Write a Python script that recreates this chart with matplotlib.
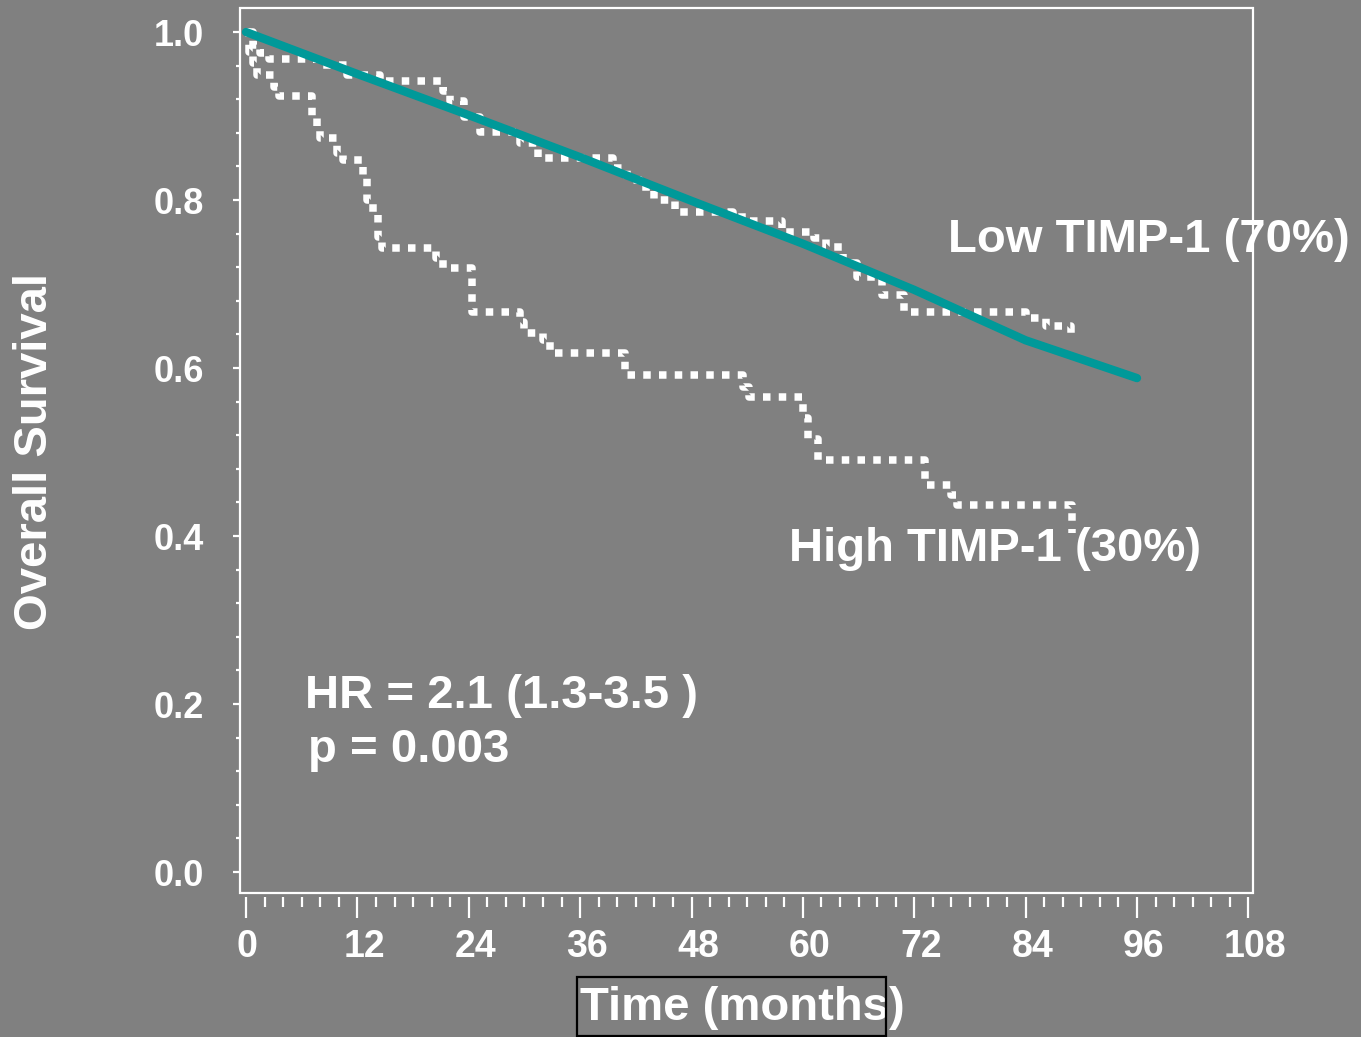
import matplotlib
matplotlib.use("Agg")
import matplotlib.pyplot as plt
import matplotlib.transforms as mtransforms
from matplotlib.patches import Rectangle
from matplotlib.ticker import MultipleLocator

# --- data ---
# Low TIMP-1 Kaplan-Meier steps (months, survival after the step)
low_months = [0, 0.8, 1.5, 2.5, 7.6, 10.9, 14.4, 21.2, 22.0, 23.5, 25.2, 29.5,
              31.5, 39.5, 41.0, 42.5, 44.0, 46.2, 52.5, 54.0, 57.7, 61.2, 62.5,
              64.3, 65.8, 68.5, 70.9, 84.0, 86.2, 88.9, 89.0]
low_surv = [1.0, 0.985, 0.975, 0.968, 0.961, 0.949, 0.942, 0.930, 0.918, 0.899,
            0.881, 0.868, 0.850, 0.838, 0.824, 0.815, 0.800, 0.786, 0.780, 0.775,
            0.762, 0.755, 0.744, 0.725, 0.708, 0.687, 0.667, 0.660, 0.650, 0.642,
            0.642]

# High TIMP-1 Kaplan-Meier steps
high_months = [0, 0.3, 0.8, 1.2, 3.0, 3.6, 7.1, 7.6, 8.0, 9.8, 10.4, 12.6, 13.0,
               13.7, 14.2, 14.6, 20.5, 21.2, 24.3, 29.5, 30.0, 32.0, 32.7, 40.8,
               53.5, 54.2, 60.0, 60.6, 61.6, 73.2, 76.0, 76.6, 89.0, 89.0]
high_surv = [1.0, 0.976, 0.963, 0.949, 0.935, 0.924, 0.900, 0.887, 0.874, 0.856,
             0.848, 0.830, 0.800, 0.785, 0.756, 0.743, 0.731, 0.719, 0.667, 0.655,
             0.642, 0.633, 0.618, 0.592, 0.577, 0.565, 0.540, 0.516, 0.490, 0.461,
             0.449, 0.437, 0.404, 0.404]

# fitted (model) curve
fit_months = [0, 12, 24, 36, 48, 60, 72, 84, 96]
fit_surv = [1.0, 0.950, 0.901, 0.851, 0.799, 0.748, 0.693, 0.633, 0.588]

x_ticks = list(range(0, 109, 12))
y_ticks = [0.0, 0.2, 0.4, 0.6, 0.8, 1.0]

BG = "#808080"
TEAL = "#009999"
FONT = "Liberation Sans"

plt.rcParams["font.family"] = [FONT, "DejaVu Sans"]
plt.rcParams["font.weight"] = "bold"

fig = plt.figure(figsize=(13.61, 10.37), dpi=100, facecolor=BG)
ax = fig.add_axes([240 / 1361, 1 - 893 / 1037, (1253 - 240) / 1361, (893 - 8) / 1037])
ax.set_facecolor(BG)

dots = dict(color="white", lw=5.4, dashes=(1, 1.1), dash_capstyle="butt",
            drawstyle="steps-post")
ax.plot(low_months, low_surv, zorder=2, **dots)
ax.plot(high_months, high_surv, zorder=2, **dots)
ax.plot(fit_months, fit_surv, color=TEAL, lw=6, solid_capstyle="round", zorder=3)

ax.set_xlim(-0.65, 108.5)
ax.set_ylim(-0.025, 1.0286)

ax.set_xticks(x_ticks)
ax.set_yticks(y_ticks)
ax.xaxis.set_minor_locator(MultipleLocator(2))
ax.yaxis.set_minor_locator(MultipleLocator(0.04))
ax.set_yticklabels([f"{v:.1f}" for v in y_ticks])

# frame drawn separately so the x ticks can sit a bit below it
for s in ax.spines.values():
    s.set_visible(False)
ax.spines["bottom"].set_position(("outward", 3))
ax.add_patch(Rectangle((0, 0), 1, 1, transform=ax.transAxes, fill=False,
                       edgecolor="white", lw=1.6, clip_on=False, zorder=5))

ax.tick_params(axis="x", which="major", direction="out", length=15, width=1.6,
               color="white", labelcolor="white", labelsize=27, pad=8)
ax.tick_params(axis="x", which="minor", direction="out", length=7, width=1.6,
               color="white")
ax.tick_params(axis="y", which="major", direction="out", length=5, width=1.6,
               color="white", labelcolor="white", labelsize=26, pad=21)
ax.tick_params(axis="y", which="minor", direction="out", length=3, width=1.6,
               color="white")

# the multi-digit month labels sit a little right of their ticks in the original
for lab in ax.get_xticklabels():
    dx = 1 if lab.get_text() == "0" else 7
    lab.set_transform(lab.get_transform()
                      + mtransforms.ScaledTranslation(dx / 100, 0, fig.dpi_scale_trans))

txt = dict(color="white", fontsize=34, fontweight="bold", va="center", ha="left")
ax.text(75.6, 0.752, "Low TIMP-1 (70%)", **txt)
ax.text(58.5, 0.385, "High TIMP-1 (30%)", **txt)
ax.text(6.36, 0.21, "HR = 2.1 (1.3-3.5 )", **txt)
ax.text(6.7, 0.145, "p = 0.003", **txt)

fig.text(35 / 1361, 1 - 451 / 1037, "Overall Survival", rotation=90, color="white",
         fontsize=34, fontweight="bold", ha="center", va="center")
fig.text(742 / 1361, 1 - 1008 / 1037, "Time (months)", color="white",
         fontsize=34, fontweight="bold", ha="center", va="center")
fig.patches.append(Rectangle((577 / 1361, 1 - 1036 / 1037), 309 / 1361, 59 / 1037,
                             transform=fig.transFigure, fill=False,
                             edgecolor="black", lw=1.6, zorder=6))

fig.savefig("out.png", dpi=100, facecolor=BG)
